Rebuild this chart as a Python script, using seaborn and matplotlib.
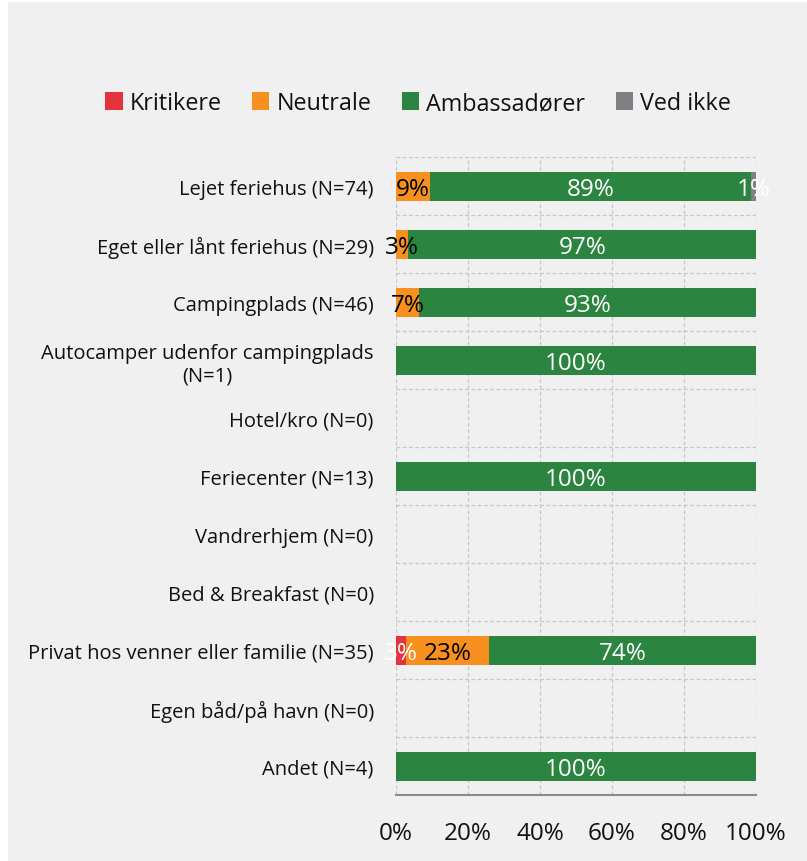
import numpy as np
import pandas as pd
import matplotlib.pyplot as plt
import seaborn as sns
from matplotlib.patches import Rectangle, Patch

# DATA
categories = [
    "Lejet feriehus (N=74)",
    "Eget eller lånt feriehus (N=29)",
    "Campingplads (N=46)",
    "Autocamper udenfor campingplads\n(N=1)",
    "Hotel/kro (N=0)",
    "Feriecenter (N=13)",
    "Vandrerhjem (N=0)",
    "Bed & Breakfast (N=0)",
    "Privat hos venner eller familie (N=35)",
    "Egen båd/på havn (N=0)",
    "Andet (N=4)",
]
kritikere = [0, 0, 0, 0, 0, 0, 0, 0, 2.86, 0, 0]
neutrale = [9.46, 3.45, 6.52, 0, 0, 0, 0, 0, 22.86, 0, 0]
ambassadorer = [89.19, 96.55, 93.48, 100, 0, 100, 0, 0, 74.29, 0, 100]
ved_ikke = [1.35, 0, 0, 0, 0, 0, 0, 0, 0, 0, 0]

series = ["Kritikere", "Neutrale", "Ambassadører", "Ved ikke"]
colors = ["#E4323E", "#F7901E", "#2B8540", "#808084"]
text_colors = ["white", "black", "white", "white"]
x_ticks = [0, 20, 40, 60, 80, 100]

sns.set_theme(style="white")
plt.rcParams["font.family"] = ["Open Sans", "DejaVu Sans"]

df = pd.DataFrame(
    {"category": categories, "Kritikere": kritikere, "Neutrale": neutrale,
     "Ambassadører": ambassadorer, "Ved ikke": ved_ikke}
)
cum = df[series].cumsum(axis=1)

fig = plt.figure(figsize=(8.07, 8.62), dpi=100, facecolor="white")
fig.patches.append(Rectangle((8 / 807, 0), 1, 1 - 3 / 862, transform=fig.transFigure,
                             facecolor="#F0F0F0", edgecolor="none", zorder=-10))
ax = fig.add_axes([396 / 807, 1 - 796 / 862, 360 / 807, 638 / 862])
ax.set_facecolor("none")

# stacked bars: draw cumulative totals from the back to the front
for name, color in reversed(list(zip(series, colors))):
    sns.barplot(x=cum[name], y=df["category"], orient="h", color=color,
                width=0.5, saturation=1, linewidth=0, ax=ax, zorder=2)

# labels
for i in range(len(categories)):
    for name, tcolor in zip(series, text_colors):
        val = df.loc[i, name]
        if val > 0:
            xc = cum.loc[i, name] - val / 2
            ax.text(xc, i, f"{val:.0f}%", ha="center", va="center_baseline",
                    color=tcolor, fontsize=17.5, zorder=5)

ax.set_xlim(0, 100)
ax.set_ylim(len(categories) - 0.5, -0.5)
ax.set_xticks(x_ticks)
ax.set_xticklabels([f"{t}%" for t in x_ticks], fontsize=17.5, color="#111111")
ax.set_yticks(range(len(categories)))
ax.set_yticklabels(categories, fontsize=14.5, color="#111111", multialignment="center")
ax.set_yticks(np.arange(-0.5, len(categories), 1), minor=True)
ax.tick_params(axis="y", which="both", length=0, pad=16)
ax.tick_params(axis="x", length=8, width=1.5, color="#8C8C8C", direction="out", pad=11)
ax.set_xlabel("")
ax.set_ylabel("")

ax.grid(axis="x", ls=(0, (3, 2)), color="#C6C6C6", lw=0.9, zorder=0)
ax.grid(axis="y", which="minor", ls=(0, (3, 2)), color="#C6C6C6", lw=0.9, zorder=0)
ax.set_axisbelow(True)
for s in ["top", "right", "left"]:
    ax.spines[s].set_visible(False)
ax.spines["bottom"].set_color("#8C8C8C")
ax.spines["bottom"].set_linewidth(1.5)

handles = [Patch(facecolor=c, edgecolor="none") for c in colors]
fig.legend(handles, series, loc="center", bbox_to_anchor=(0.518, 1 - 104 / 862),
           ncol=4, frameon=False, fontsize=16.8, handlelength=0.75, handleheight=0.85,
           handletextpad=0.3, columnspacing=1.3, labelcolor="#111111")

fig.savefig("out.png", dpi=100, facecolor="white")
